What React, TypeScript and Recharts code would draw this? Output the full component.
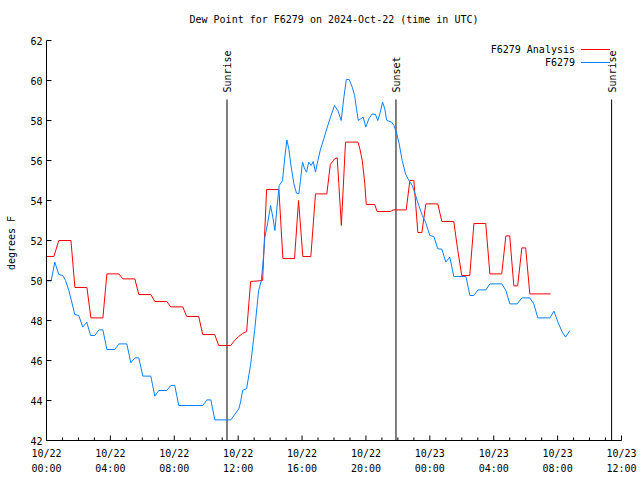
import { LineChart, Line, XAxis, YAxis, ReferenceLine } from 'recharts';

const FONT = '"DejaVu Sans Mono", monospace';

// hours since 2024-10-22 00:00 UTC, dew point in degrees F
const analysisPoints: [number, number][] = [
  [0, 51.2], [0.46, 51.2], [0.77, 52.0], [1.53, 52.0], [1.78, 49.65], [2.53, 49.65],
  [2.78, 48.13], [3.53, 48.13], [3.78, 50.33], [4.53, 50.33], [4.78, 50.08], [5.53, 50.08],
  [5.78, 49.3], [6.53, 49.3], [6.78, 48.95], [7.53, 48.95], [7.78, 48.68], [8.53, 48.68],
  [8.78, 48.2], [9.53, 48.2], [9.78, 47.3], [10.53, 47.3], [10.78, 46.75], [11.53, 46.75],
  [11.78, 47.0], [12.03, 47.2], [12.28, 47.35], [12.53, 47.45], [12.78, 49.95], [13.53, 50.0],
  [13.78, 54.55], [14.55, 54.55], [14.8, 51.1], [15.53, 51.1], [15.78, 54.0], [16.05, 51.2],
  [16.55, 51.2], [16.84, 54.33], [17.55, 54.33], [17.77, 55.8], [18.06, 56.1], [18.2, 56.13],
  [18.3, 54.85], [18.46, 52.75], [18.72, 56.92], [19.5, 56.92], [19.62, 56.58], [19.77, 56.0],
  [19.93, 54.83], [20.02, 53.8], [20.55, 53.8], [20.7, 53.45], [21.54, 53.45], [21.7, 53.53],
  [22.52, 53.53], [22.75, 55.0], [23.0, 55.0], [23.25, 52.4], [23.5, 52.4], [23.75, 53.83],
  [24.5, 53.83], [24.75, 52.95], [25.5, 52.95], [25.75, 51.5], [26.0, 50.25], [26.5, 50.25],
  [26.76, 52.85], [27.5, 52.85], [27.76, 50.33], [28.5, 50.33], [28.76, 52.23], [29.0, 52.23],
  [29.26, 49.73], [29.5, 49.73], [29.76, 51.63], [30.0, 51.63], [30.26, 49.33], [31.56, 49.33],
];

const obsPoints: [number, number][] = [
  [0, 49.98], [0.29, 49.98], [0.52, 50.92], [0.77, 50.3], [1.02, 50.25], [1.19, 50.0],
  [1.4, 49.5], [1.61, 48.83], [1.77, 48.3], [2.02, 48.25], [2.27, 47.67], [2.52, 47.92],
  [2.76, 47.25], [3.02, 47.25], [3.28, 47.53], [3.53, 47.53], [3.78, 46.55], [4.28, 46.55],
  [4.53, 46.83], [5.03, 46.83], [5.28, 45.88], [5.53, 46.13], [5.78, 46.13], [6.03, 45.22],
  [6.53, 45.22], [6.78, 44.22], [7.03, 44.5], [7.53, 44.5], [7.78, 44.75], [8.03, 44.75],
  [8.28, 43.75], [9.79, 43.75], [10.04, 44.03], [10.29, 44.03], [10.54, 43.03], [11.54, 43.03],
  [12.04, 43.58], [12.15, 43.92], [12.28, 44.5], [12.53, 44.6], [12.78, 45.8], [13.03, 47.5],
  [13.28, 49.5], [13.45, 50.0], [13.57, 51.03], [13.67, 52.17], [13.84, 52.83], [14.03, 53.75],
  [14.17, 53.17], [14.3, 52.5], [14.45, 53.83], [14.57, 54.75], [14.78, 55.0], [14.92, 56.17],
  [15.05, 57.03], [15.17, 56.58], [15.32, 55.67], [15.49, 54.83], [15.65, 54.37], [15.8, 54.33],
  [15.9, 55.0], [16.03, 55.92], [16.16, 55.58], [16.28, 55.42], [16.42, 55.92], [16.57, 55.75],
  [16.7, 55.95], [16.84, 55.42], [16.99, 56.0], [17.16, 56.58], [17.36, 57.08], [17.58, 57.67],
  [17.78, 58.17], [18.03, 58.75], [18.24, 58.5], [18.45, 58.0], [18.62, 59.17], [18.77, 60.05],
  [18.95, 60.05], [19.14, 59.67], [19.29, 59.25], [19.41, 58.58], [19.52, 58.0], [19.66, 58.08],
  [19.83, 58.17], [19.99, 57.67], [20.18, 58.08], [20.39, 58.33], [20.6, 58.3], [20.74, 58.0],
  [20.87, 58.33], [21.04, 58.92], [21.18, 58.58], [21.29, 58.03], [21.43, 57.97], [21.6, 57.92],
  [21.75, 57.75], [21.9, 57.42], [22.06, 56.92], [22.27, 56.0], [22.48, 55.33], [22.69, 55.0],
  [22.9, 54.75], [23.11, 54.25], [23.31, 53.75], [23.53, 53.25], [23.73, 52.92], [24.0, 52.25],
  [24.25, 52.2], [24.5, 51.58], [24.75, 51.57], [25.0, 50.92], [25.25, 51.17], [25.5, 50.2],
  [26.26, 50.2], [26.51, 49.25], [26.76, 49.25], [27.01, 49.53], [27.51, 49.53], [27.76, 49.83],
  [28.51, 49.83], [28.76, 49.5], [29.01, 48.83], [29.47, 48.83], [29.76, 49.13], [30.26, 49.13],
  [30.51, 48.83], [30.76, 48.13], [31.52, 48.13], [31.77, 48.47], [32.02, 47.92], [32.29, 47.42],
  [32.5, 47.17], [32.77, 47.5],
];

const xMajorTicks = [0, 4, 8, 12, 16, 20, 24, 28, 32, 36];
const xTickDates = ['10/22', '10/22', '10/22', '10/22', '10/22', '10/22', '10/23', '10/23', '10/23', '10/23'];
const xTickTimes = ['00:00', '04:00', '08:00', '12:00', '16:00', '20:00', '00:00', '04:00', '08:00', '12:00'];
const xMinorTicks = [
  0, 1, 2, 3, 4, 5, 6, 7, 8, 9, 10, 11, 12, 13, 14, 15, 16, 17, 18,
  19, 20, 21, 22, 23, 24, 25, 26, 27, 28, 29, 30, 31, 32, 33, 34, 35, 36,
];
const yTicks = [42, 44, 46, 48, 50, 52, 54, 56, 58, 60, 62];

const sunEvents = [
  { name: 'Sunrise', t: 11.3 },
  { name: 'Sunset', t: 21.88 },
  { name: 'Sunrise', t: 35.38 },
];

const analysisData = analysisPoints.map(([t, v]) => ({ t, v }));
const obsData = obsPoints.map(([t, v]) => ({ t, v }));

const RED = '#ff0000';
const BLUE = '#0a80ff';

const BottomTick = (props: any) => {
  const { x, y, payload } = props;
  const i = xMajorTicks.indexOf(payload.value);
  const major = i >= 0;
  return (
    <g>
      <line x1={x} x2={x} y1={y} y2={y - (major ? 5 : 3)} stroke="#000" />
      {major && (
        <text x={x} y={y + 16} textAnchor="middle" fontFamily={FONT} fontSize={10} fill="#000">
          {xTickDates[i]}
        </text>
      )}
      {major && (
        <text x={x} y={y + 31} textAnchor="middle" fontFamily={FONT} fontSize={10} fill="#000">
          {xTickTimes[i]}
        </text>
      )}
    </g>
  );
};

const TopTick = (props: any) => {
  const { x, y, payload } = props;
  const major = xMajorTicks.includes(payload.value);
  return <line x1={x} x2={x} y1={y} y2={y + (major ? 5 : 3)} stroke="#000" />;
};

const LeftTick = (props: any) => {
  const { x, y, payload } = props;
  return (
    <g>
      <line x1={x} x2={x + 5} y1={y} y2={y} stroke="#000" />
      <text x={x - 4} y={y + 4} textAnchor="end" fontFamily={FONT} fontSize={10} fill="#000">
        {payload.value}
      </text>
    </g>
  );
};

const RightTick = (props: any) => {
  const { x, y } = props;
  return <line x1={x} x2={x - 5} y1={y} y2={y} stroke="#000" />;
};

const SunLabel = (props: any) => {
  const vb = props.viewBox || {};
  const x = vb.x1 ?? vb.x;
  const y = Math.min(vb.y1 ?? vb.y, vb.y2 ?? vb.y);
  const tx = x + 4.5;
  const ty = y - 7;
  return (
    <text
      x={tx}
      y={ty}
      transform={`rotate(-90 ${tx} ${ty})`}
      fontFamily={FONT}
      fontSize={10}
      fill="#000"
    >
      {props.text}
    </text>
  );
};

export default function App() {
  return (
    <div style={{ position: 'absolute', left: 0, top: 0, width: 640, height: 480, background: '#fff' }}>
      <LineChart
        width={640}
        height={480}
        margin={{ top: 40.5, right: 18.5, bottom: 0, left: 0 }}
      >
        <XAxis
          xAxisId="b"
          dataKey="t"
          type="number"
          domain={[0, 36]}
          allowDataOverflow
          ticks={xMinorTicks}
          interval={0}
          height={39.5}
          tickSize={0}
          tickMargin={0}
          axisLine={{ stroke: '#000' }}
          tickLine={false}
          tick={(p: any) => <BottomTick {...p} />}
        />
        <XAxis
          xAxisId="t"
          orientation="top"
          dataKey="t"
          type="number"
          domain={[0, 36]}
          allowDataOverflow
          ticks={xMinorTicks}
          interval={0}
          height={0}
          tickSize={0}
          tickMargin={0}
          axisLine={{ stroke: '#000' }}
          tickLine={false}
          tick={(p: any) => <TopTick {...p} />}
        />
        <YAxis
          yAxisId="l"
          type="number"
          domain={[42, 62]}
          allowDataOverflow
          ticks={yTicks}
          interval={0}
          width={46.5}
          tickSize={0}
          tickMargin={0}
          axisLine={{ stroke: '#000' }}
          tickLine={false}
          tick={(p: any) => <LeftTick {...p} />}
        />
        <YAxis
          yAxisId="r"
          orientation="right"
          type="number"
          domain={[42, 62]}
          allowDataOverflow
          ticks={yTicks}
          interval={0}
          width={0}
          tickSize={0}
          tickMargin={0}
          axisLine={{ stroke: '#000' }}
          tickLine={false}
          tick={(p: any) => <RightTick {...p} />}
        />
        {sunEvents.map((s, i) => (
          <ReferenceLine
            key={i}
            xAxisId="b"
            yAxisId="l"
            segment={[{ x: s.t, y: 59.05 }, { x: s.t, y: 42 }]}
            stroke="#000"
            strokeWidth={1}
            label={(p: any) => <SunLabel {...p} text={s.name} />}
          />
        ))}
        <Line
          xAxisId="b"
          yAxisId="l"
          data={analysisData}
          dataKey="v"
          type="linear"
          stroke={RED}
          strokeWidth={1}
          dot={false}
          isAnimationActive={false}
        />
        <Line
          xAxisId="b"
          yAxisId="l"
          data={obsData}
          dataKey="v"
          type="linear"
          stroke={BLUE}
          strokeWidth={1}
          dot={false}
          isAnimationActive={false}
        />
      </LineChart>
      <svg
        width={640}
        height={480}
        style={{ position: 'absolute', left: 0, top: 0, pointerEvents: 'none' }}
      >
        <text x={334} y={23} textAnchor="middle" fontFamily={FONT} fontSize={10} fill="#000">
          Dew Point for F6279 on 2024-Oct-22 (time in UTC)
        </text>
        <text
          x={15}
          y={243}
          textAnchor="middle"
          transform="rotate(-90 15 243)"
          fontFamily={FONT}
          fontSize={10}
          fill="#000"
        >
          degrees F
        </text>
        <text x={575} y={53} textAnchor="end" fontFamily={FONT} fontSize={10} fill="#000">
          F6279 Analysis
        </text>
        <line x1={581} x2={610} y1={49.5} y2={49.5} stroke={RED} />
        <text x={575} y={66} textAnchor="end" fontFamily={FONT} fontSize={10} fill="#000">
          F6279
        </text>
        <line x1={581} x2={610} y1={62.5} y2={62.5} stroke={BLUE} />
      </svg>
    </div>
  );
}
